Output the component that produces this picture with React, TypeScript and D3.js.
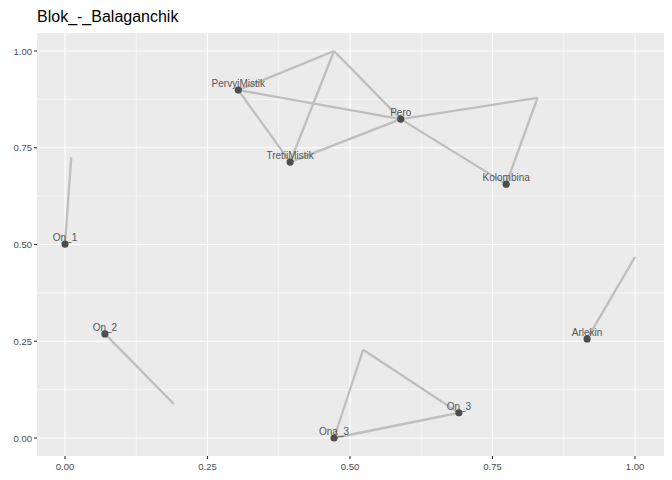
import React from "react";
import * as d3 from "d3";

const nodeNames = ["PervyiMistik", "Pero", "TretiiMistik", "Kolombina", "On_1", "On_2", "Arlekin", "On_3", "Ona_3", "", "", "", "", "", ""];
const nodeX = [0.304, 0.589, 0.395, 0.774, 0.0, 0.07, 0.916, 0.691, 0.472, 0.472, 0.829, 0.011, 0.191, 1.0, 0.523];
const nodeY = [0.899, 0.824, 0.713, 0.656, 0.501, 0.269, 0.256, 0.065, 0.0, 1.0, 0.879, 0.725, 0.088, 0.468, 0.228];
const shown = [true, true, true, true, true, true, true, true, true, false, false, false, false, false, false];
const edges: [number, number][] = [
  [0, 9], [9, 1], [9, 2], [0, 2], [0, 1], [2, 1], [1, 10], [10, 3], [1, 3],
  [4, 11], [5, 12], [6, 13], [8, 14], [14, 7], [8, 7],
];
const ticks = [0, 0.25, 0.5, 0.75, 1];
const minor = [0.125, 0.375, 0.625, 0.875];

export default function App() {
  const W = 672, H = 480;
  const left = 37, right = 664, top = 33, bottom = 456;
  const x = d3.scaleLinear().domain([0, 1]).range([65, 635]);
  const y = d3.scaleLinear().domain([0, 1]).range([438, 51]);
  return (
    <svg width={W} height={H} style={{ position: "absolute", left: 0, top: 0, fontFamily: "Liberation Sans, Arial, sans-serif" }}>
      <rect width={W} height={H} fill="white" />
      <text x={37} y={22} fontSize={16} fill="black">Blok_-_Balaganchik</text>
      <rect x={left} y={top} width={right - left} height={bottom - top} fill="#EBEBEB" />
      {minor.map(t => (
        <g key={"m" + t}>
          <line x1={x(t)} x2={x(t)} y1={top} y2={bottom} stroke="white" strokeWidth={0.55} />
          <line x1={left} x2={right} y1={y(t)} y2={y(t)} stroke="white" strokeWidth={0.55} />
        </g>
      ))}
      {ticks.map(t => (
        <g key={"t" + t}>
          <line x1={x(t)} x2={x(t)} y1={top} y2={bottom} stroke="white" strokeWidth={1.1} />
          <line x1={left} x2={right} y1={y(t)} y2={y(t)} stroke="white" strokeWidth={1.1} />
          <line x1={x(t)} x2={x(t)} y1={bottom} y2={bottom + 3} stroke="#333" strokeWidth={1.1} />
          <line x1={left - 3} x2={left} y1={y(t)} y2={y(t)} stroke="#333" strokeWidth={1.1} />
          <text x={x(t)} y={bottom + 14} fontSize={9.5} fill="#4D4D4D" textAnchor="middle">{t.toFixed(2)}</text>
          <text x={left - 5} y={y(t) + 3.5} fontSize={9.5} fill="#4D4D4D" textAnchor="end">{t.toFixed(2)}</text>
        </g>
      ))}
      {edges.map(([a, b], i) => (
        <line key={"e" + i} x1={x(nodeX[a])} y1={y(nodeY[a])} x2={x(nodeX[b])} y2={y(nodeY[b])} stroke="#BEBEBE" strokeWidth={2.3} />
      ))}
      {nodeNames.map((n, i) => shown[i] && (
        <g key={"n" + i}>
          <circle cx={x(nodeX[i])} cy={y(nodeY[i])} r={3.6} fill="#4D4D4D" />
          <text x={x(nodeX[i])} y={y(nodeY[i]) - 3} fontSize={10} fill="#555" textAnchor="middle">{n}</text>
        </g>
      ))}
    </svg>
  );
}
